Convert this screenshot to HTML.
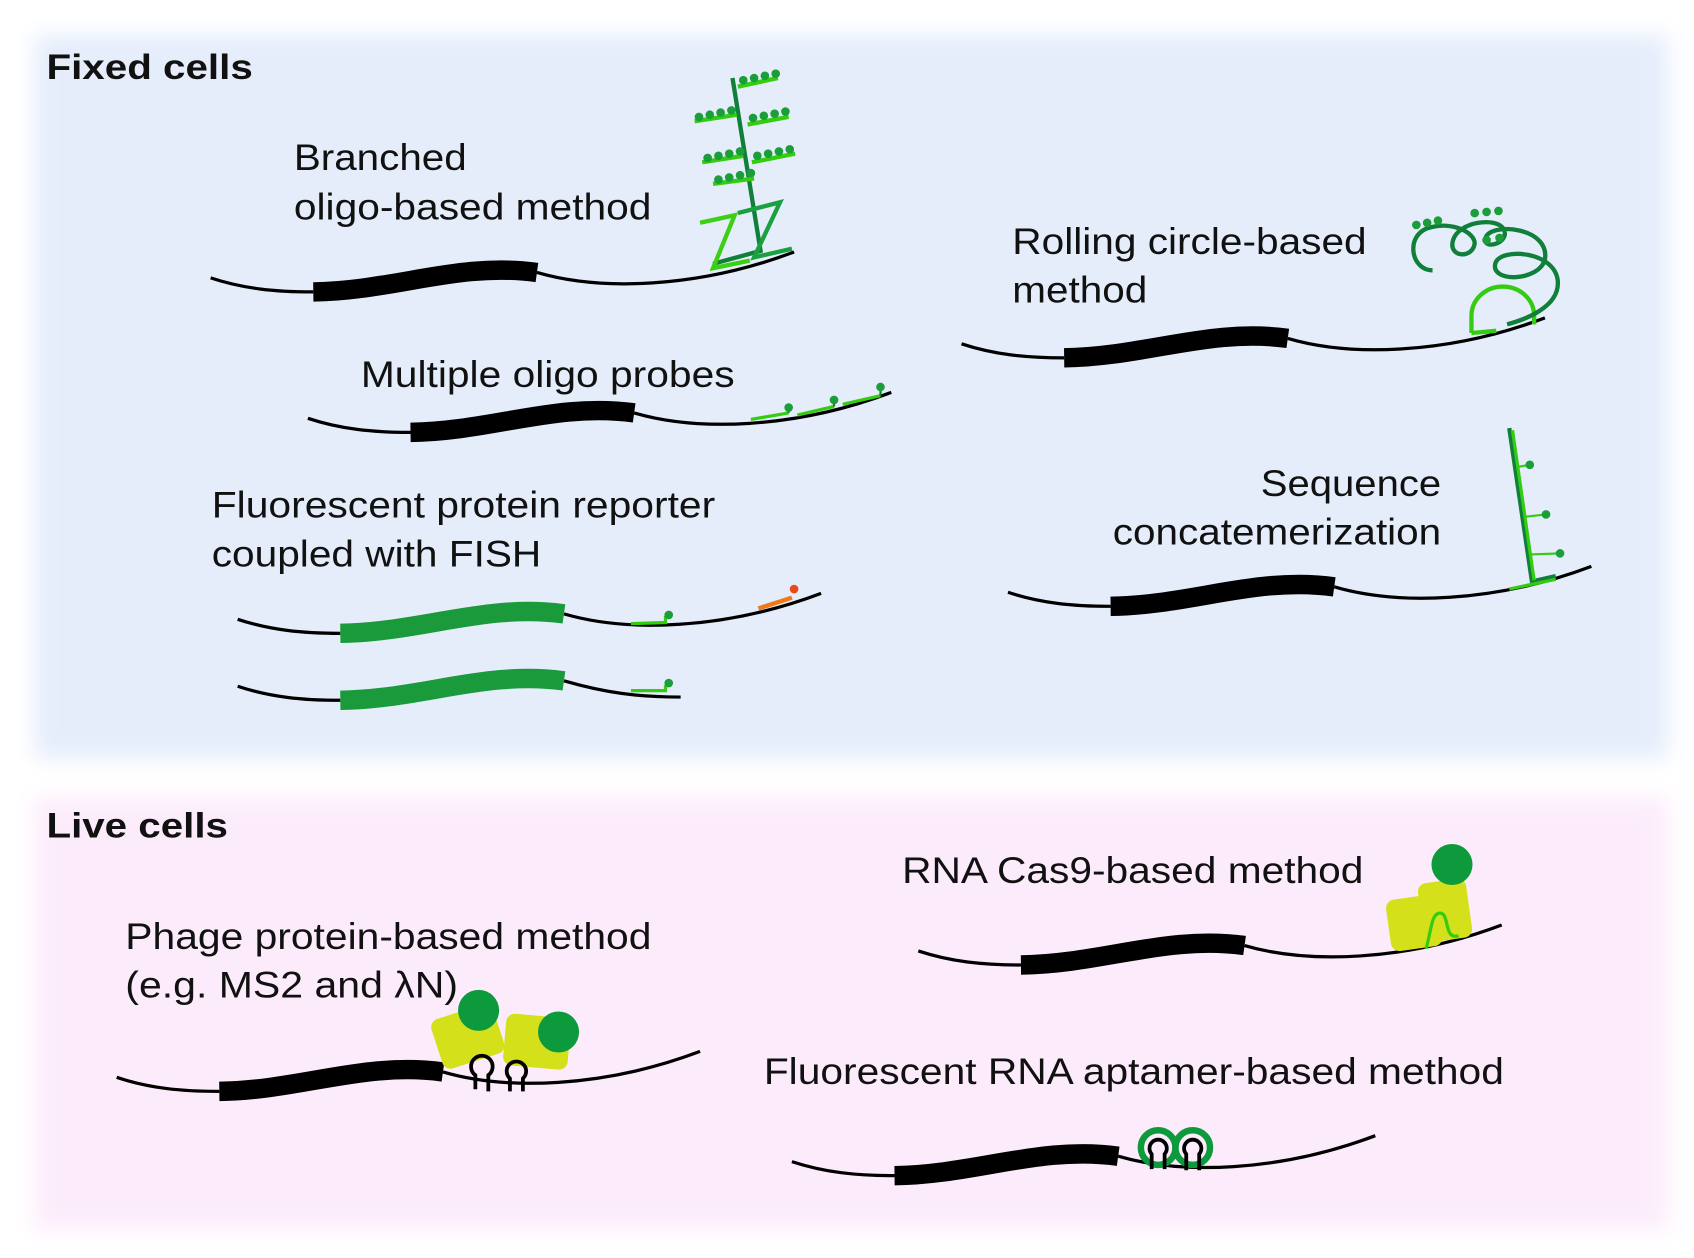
<!DOCTYPE html>
<html><head><meta charset="utf-8"><style>
html,body{margin:0;padding:0;background:#fff;}
svg{display:block;}
text{font-family:"Liberation Sans",Arial,sans-serif;fill:#111;}
</style></head><body>
<svg width="1694" height="1258" viewBox="0 0 1568 1164" xmlns="http://www.w3.org/2000/svg">
<defs>
<filter id="bl" x="-5%" y="-5%" width="110%" height="110%"><feGaussianBlur stdDeviation="10"/></filter>
<g id="thin"><path d="M0,0 C30,10 60,13 95,13" fill="none" stroke="#000" stroke-width="3"/><path d="M302,-5 C360,12 450,10 540,-24" fill="none" stroke="#000" stroke-width="3"/></g>
<path id="thick" d="M95,13 C170,12 230,-15 302,-5" fill="none" stroke-width="18"/>
</defs>
<rect x="0" y="0" width="1568" height="1164" fill="#fff"/>
<rect x="32" y="32" width="1512" height="670" fill="#e5edfb" filter="url(#bl)"/>
<rect x="32" y="738" width="1512" height="400" fill="#fcecfb" filter="url(#bl)"/>

<text x="43" y="73" font-size="33" font-weight="bold" textLength="191" lengthAdjust="spacingAndGlyphs">Fixed cells</text>
<text x="43" y="775" font-size="33" font-weight="bold" textLength="168" lengthAdjust="spacingAndGlyphs">Live cells</text>

<g font-size="34">
<text x="272" y="157" textLength="160" lengthAdjust="spacingAndGlyphs">Branched</text>
<text x="272" y="203" textLength="331" lengthAdjust="spacingAndGlyphs">oligo-based method</text>
<text x="937" y="235" textLength="328" lengthAdjust="spacingAndGlyphs">Rolling circle-based</text>
<text x="937" y="280" textLength="125" lengthAdjust="spacingAndGlyphs">method</text>
<text x="334" y="358" textLength="346" lengthAdjust="spacingAndGlyphs">Multiple oligo probes</text>
<text x="196" y="479" textLength="466" lengthAdjust="spacingAndGlyphs">Fluorescent protein reporter</text>
<text x="196" y="524" textLength="305" lengthAdjust="spacingAndGlyphs">coupled with FISH</text>
<text x="1167" y="459" textLength="167" lengthAdjust="spacingAndGlyphs">Sequence</text>
<text x="1030" y="504" textLength="304" lengthAdjust="spacingAndGlyphs">concatemerization</text>
<text x="835" y="817" textLength="427" lengthAdjust="spacingAndGlyphs">RNA Cas9-based method</text>
<text x="116" y="878" textLength="487" lengthAdjust="spacingAndGlyphs">Phage protein-based method</text>
<text x="116" y="923" textLength="308" lengthAdjust="spacingAndGlyphs">(e.g. MS2 and λN)</text>
<text x="707" y="1003" textLength="685" lengthAdjust="spacingAndGlyphs">Fluorescent RNA aptamer-based method</text>
</g>

<!-- strands -->
<g transform="translate(195,257)"><use href="#thin"/><use href="#thick" stroke="#000"/></g>
<g transform="translate(285,387)"><use href="#thin"/><use href="#thick" stroke="#000"/></g>
<g transform="translate(890,318)"><use href="#thin"/><use href="#thick" stroke="#000"/></g>
<g transform="translate(933,548)"><use href="#thin"/><use href="#thick" stroke="#000"/></g>
<g transform="translate(220,573)"><use href="#thin"/><use href="#thick" stroke="#1a9a3a"/></g>
<g transform="translate(220,635)"><path d="M0,0 C30,10 60,13 95,13" fill="none" stroke="#000" stroke-width="3"/><path d="M302,-5 C340,6 370,10 410,10" fill="none" stroke="#000" stroke-width="3"/><use href="#thick" stroke="#1a9a3a"/></g>
<g transform="translate(850,880)"><use href="#thin"/><use href="#thick" stroke="#000"/></g>
<g transform="translate(108,997)"><use href="#thin"/><use href="#thick" stroke="#000"/></g>
<g transform="translate(733,1075)"><use href="#thin"/><use href="#thick" stroke="#000"/></g>

<!-- branched tree -->
<g stroke-linecap="butt" fill="none">
<path d="M678,72 L704,232 L660,244" stroke="#0f7f3a" stroke-width="4"/>
<path d="M648,206 L680,199 L660,248 L694,241" stroke="#3ccf14" stroke-width="4"/>
<path d="M683,197 L722,187 L698,238 L733,230" stroke="#1aa040" stroke-width="4"/>
<path d="M683,80 L720,72 M692,115 L730,108 M696,150 L736,142 M643,112 L682,106 M650,150 L688,144 M660,170 L698,165" stroke="#33cc11" stroke-width="4"/>
</g>
<g fill="#1a9e3a">
<circle cx="688" cy="74" r="4"/><circle cx="698" cy="72" r="4"/><circle cx="708" cy="70" r="4"/><circle cx="718" cy="68" r="4"/>
<circle cx="697" cy="109" r="4"/><circle cx="707" cy="107" r="4"/><circle cx="717" cy="105" r="4"/><circle cx="727" cy="103" r="4"/>
<circle cx="701" cy="144" r="4"/><circle cx="711" cy="142" r="4"/><circle cx="721" cy="140" r="4"/><circle cx="731" cy="138" r="4"/>
<circle cx="647" cy="108" r="4"/><circle cx="657" cy="106" r="4"/><circle cx="667" cy="104" r="4"/><circle cx="677" cy="102" r="4"/>
<circle cx="655" cy="146" r="4"/><circle cx="665" cy="144" r="4"/><circle cx="675" cy="142" r="4"/><circle cx="685" cy="140" r="4"/>
<circle cx="665" cy="166" r="4"/><circle cx="675" cy="164" r="4"/><circle cx="685" cy="162" r="4"/><circle cx="695" cy="160" r="4"/>
</g>

<!-- rolling circle -->
<g fill="none" stroke-width="4">
<path d="M1362,308 L1362,292 A29,27 0 0 1 1420,292 L1420,300 M1362,308 L1385,306" stroke="#33cc11"/>
<path d="M1326,250 C1305,250 1300,215 1325,210 C1345,205 1365,215 1365,225 C1363,240 1340,238 1345,222 C1350,205 1385,200 1392,212 C1398,225 1372,232 1375,220 C1380,205 1435,210 1430,240 C1425,260 1380,262 1384,244 C1388,228 1442,232 1442,262 C1442,285 1410,296 1395,300" stroke="#0f7f3a"/>
</g>
<g fill="#1a9e3a">
<circle cx="1311" cy="208" r="4"/><circle cx="1321" cy="206" r="4"/><circle cx="1331" cy="204" r="4"/>
<circle cx="1365" cy="197" r="4"/><circle cx="1376" cy="196" r="4"/><circle cx="1387" cy="195" r="4"/>
<circle cx="1376" cy="222" r="4"/><circle cx="1388" cy="220" r="4"/>
</g>

<!-- multiple oligo probes -->
<g stroke="#33cc11" stroke-width="3" fill="none">
<path d="M695,388 L730,382 M738,384 L772,376 M780,374 L815,366"/>
</g>
<g stroke="#0f7f3a" stroke-width="2"><path d="M730,382 V377 M772,376 V371 M815,366 V359"/></g>
<g fill="#1a9e3a"><circle cx="730" cy="377" r="4"/><circle cx="772" cy="370" r="4"/><circle cx="815" cy="358" r="4"/></g>

<!-- sequence concatemerization -->
<path d="M1397,396 L1418,538 L1440,533" stroke="#0f7f3a" stroke-width="4" fill="none"/>
<path d="M1400,398 L1420,537 M1397,545 L1440,536" stroke="#33cc11" stroke-width="3" fill="none"/>
<path d="M1405,432 L1416,430 M1412,478 L1431,476 M1417,513 L1444,512" stroke="#33cc11" stroke-width="2" fill="none"/>
<g fill="#1a9e3a"><circle cx="1416" cy="430" r="4"/><circle cx="1431" cy="476" r="4"/><circle cx="1444" cy="512" r="4"/></g>

<!-- FISH probes -->
<path d="M584,577 L616,576 V570" stroke="#33cc11" stroke-width="3" fill="none"/>
<circle cx="619" cy="569" r="4" fill="#1a9e3a"/>
<path d="M702,563 L733,553" stroke="#f07818" stroke-width="4" fill="none"/>
<circle cx="735" cy="545" r="4" fill="#e84a1a"/>
<path d="M584,639 L616,639 V634" stroke="#33cc11" stroke-width="3" fill="none"/>
<circle cx="619" cy="632" r="4" fill="#1a9e3a"/>

<!-- Cas9 -->
<rect x="1285" y="830" width="48" height="48" rx="8" fill="#d4e01a" transform="rotate(-8 1309 854)"/>
<rect x="1315" y="815" width="45" height="55" rx="8" fill="#d4e01a" transform="rotate(-8 1337 842)"/>
<path d="M1320,878 C1325,860 1325,845 1333,845 C1342,845 1336,870 1350,866" stroke="#33cc11" stroke-width="3" fill="none"/>
<circle cx="1344" cy="800" r="19" fill="#0c9a3c"/>

<!-- Phage -->
<rect x="403" y="935" width="60" height="48" rx="8" fill="#d4e01a" transform="rotate(-18 433 959)"/>
<rect x="467" y="940" width="60" height="48" rx="8" fill="#d4e01a" transform="rotate(5 497 964)"/>
<circle cx="443" cy="935" r="19" fill="#0c9a3c"/>
<circle cx="517" cy="955" r="19" fill="#0c9a3c"/>
<g fill="none" stroke="#000" stroke-width="3.5">
<path d="M440,1008 V995 A10,10 0 1 1 452,995 V1010"/>
<path d="M472,1010 V998 A9,9 0 1 1 484,998 V1010"/>
</g>

<!-- aptamer -->
<g fill="none">
<circle cx="1072" cy="1062" r="16" stroke="#0c9a3c" stroke-width="6"/>
<circle cx="1104" cy="1062" r="16" stroke="#0c9a3c" stroke-width="6"/>
<path d="M1066,1082 V1068 A8,8 0 1 1 1078,1068 V1082" stroke="#000" stroke-width="3.5"/>
<path d="M1098,1083 V1068 A8,8 0 1 1 1110,1068 V1083" stroke="#000" stroke-width="3.5"/>
</g>
</svg>
</body></html>
